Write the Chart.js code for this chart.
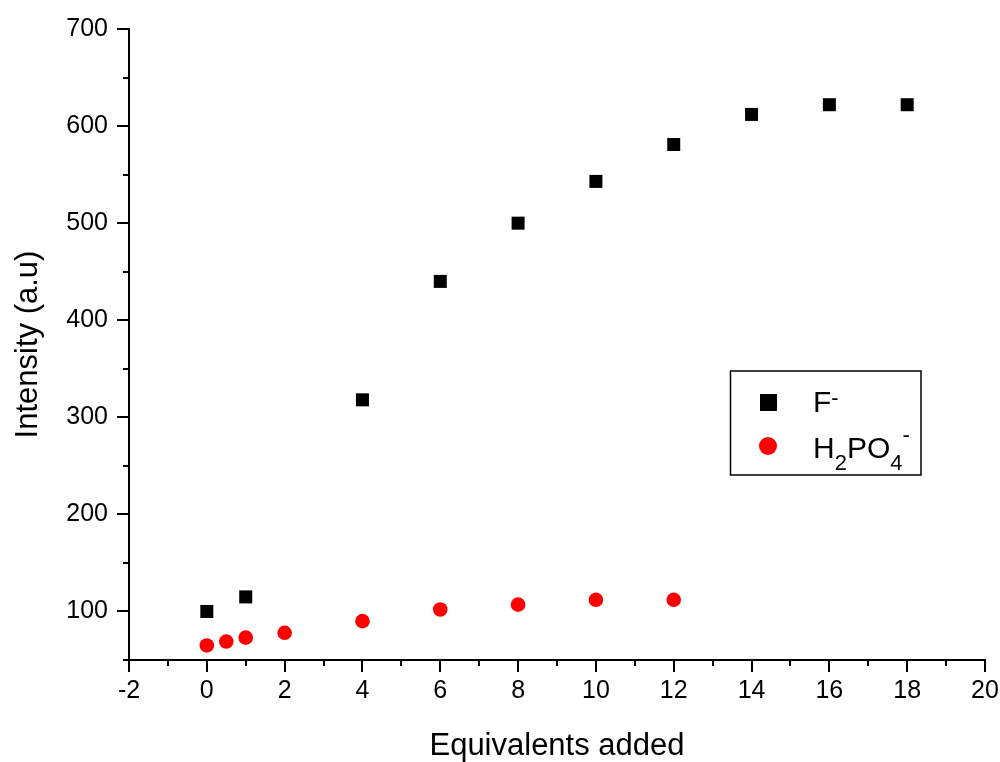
<!DOCTYPE html>
<html>
<head>
<meta charset="utf-8">
<script src="https://cdn.jsdelivr.net/npm/chart.js@4"></script>
<style>
html, body { margin: 0; padding: 0; background: #fff; }
</style>
</head>
<body>
<canvas id="chart" width="1000" height="762"></canvas>
<script>
// F- series
const fluorideX = [0, 1, 4, 6, 8, 10, 12, 14, 16, 18];
const fluorideY = [100, 115, 318, 440, 500, 543, 581, 612, 622, 622];
// H2PO4- series
const phosphateX = [0, 0.5, 1, 2, 4, 6, 8, 10, 12];
const phosphateY = [65, 69, 73, 78, 90, 102, 107, 112, 112];
// labelled ticks
const xTickLabels = [-2, 0, 2, 4, 6, 8, 10, 12, 14, 16, 18, 20];
const yTickLabels = [100, 200, 300, 400, 500, 600, 700];

const FONT = "'Liberation Sans', Arial, sans-serif";

function toPoints(xs, ys) {
    return xs.map((x, i) => ({ x: x, y: ys[i] }));
}

// major/minor tick marks drawn outside the axes
const tickMarks = {
    id: "tickMarks",
    afterDraw(chart) {
        const ctx = chart.ctx;
        const xs = chart.scales.x;
        const ys = chart.scales.y;
        ctx.save();
        ctx.strokeStyle = "#000";
        ctx.lineWidth = 2;
        ctx.beginPath();
        ys.ticks.forEach(t => {
            const py = Math.round(ys.getPixelForValue(t.value));
            const len = yTickLabels.includes(t.value) ? 12 : 6;
            ctx.moveTo(chart.chartArea.left - len, py);
            ctx.lineTo(chart.chartArea.left, py);
        });
        xs.ticks.forEach(t => {
            const px = Math.round(xs.getPixelForValue(t.value));
            const len = xTickLabels.includes(t.value) ? 12 : 6;
            ctx.moveTo(px, chart.chartArea.bottom);
            ctx.lineTo(px, chart.chartArea.bottom + len);
        });
        ctx.stroke();
        ctx.restore();
    }
};

// legend box with sub/superscripts
const chemLegend = {
    id: "chemLegend",
    afterDraw(chart) {
        const ctx = chart.ctx;
        ctx.save();
        ctx.strokeStyle = "#000";
        ctx.lineWidth = 1.5;
        ctx.strokeRect(730.5, 371, 190.5, 104);

        ctx.fillStyle = "#000";
        ctx.fillRect(760, 394, 17, 17);
        ctx.fillStyle = "#ff0000";
        ctx.beginPath();
        ctx.arc(768, 446, 9, 0, Math.PI * 2);
        ctx.fill();

        const big = "30px " + FONT;
        const small = "22px " + FONT;
        ctx.fillStyle = "#000";
        ctx.textBaseline = "alphabetic";
        ctx.textAlign = "left";

        // F-
        let x = 813;
        ctx.font = big;
        ctx.fillText("F", x, 412);
        x += ctx.measureText("F").width;
        ctx.font = small;
        ctx.fillText("-", x, 405);

        // H2PO4-
        x = 813;
        const base = 458;
        const parts = [
            ["H", big, 0], ["2", small, 12], ["PO", big, 0], ["4", small, 12], ["-", small, -16]
        ];
        parts.forEach(([txt, font, dy]) => {
            ctx.font = font;
            ctx.fillText(txt, x, base + dy);
            x += ctx.measureText(txt).width;
        });
        ctx.restore();
    }
};

const data = {
    datasets: [
        {
            label: "F-",
            data: toPoints(fluorideX, fluorideY),
            pointStyle: "rect",
            pointRadius: 9.2,
            pointHoverRadius: 9.2,
            backgroundColor: "#000",
            borderWidth: 0,
        },
        {
            label: "H2PO4-",
            data: toPoints(phosphateX, phosphateY),
            pointStyle: "circle",
            pointRadius: 7.3,
            pointHoverRadius: 7.3,
            backgroundColor: "#ff0000",
            borderWidth: 0,
        },
    ],
};

const config = {
    type: "scatter",
    data: data,
    options: {
        responsive: false,
        animation: false,
        devicePixelRatio: 1,
        layout: { padding: { left: 0, right: 15, top: 29, bottom: 0 } },
        plugins: {
            legend: { display: false },
            tooltip: { enabled: false },
        },
        scales: {
            x: {
                type: "linear",
                min: -2,
                max: 20,
                grid: { display: false, drawTicks: true, tickLength: 12 },
                border: { display: true, color: "#000", width: 2 },
                ticks: {
                    stepSize: 1,
                    autoSkip: false,
                    maxRotation: 0,
                    padding: 4,
                    color: "#000",
                    font: { family: FONT, size: 25 },
                    callback: v => (xTickLabels.includes(v) ? String(v) : ""),
                },
                title: {
                    display: true,
                    text: "Equivalents added",
                    color: "#000",
                    font: { family: FONT, size: 31, lineHeight: 1 },
                    padding: { top: 0, bottom: 0 },
                },
                afterFit(scale) {
                    scale.height = 102;
                    scale.paddingLeft = 0;
                    scale.paddingRight = 0;
                },
            },
            y: {
                type: "linear",
                min: 50,
                max: 700,
                grid: { display: false, drawTicks: true, tickLength: 12 },
                border: { display: true, color: "#000", width: 2 },
                ticks: {
                    stepSize: 50,
                    autoSkip: false,
                    padding: 9,
                    color: "#000",
                    font: { family: FONT, size: 25 },
                    callback: v => (yTickLabels.includes(v) ? String(v) : ""),
                },
                title: {
                    display: true,
                    text: "Intensity (a.u)",
                    color: "#000",
                    font: { family: FONT, size: 31, lineHeight: 1.2 },
                    padding: { top: 10, bottom: 0 },
                },
                afterFit(scale) {
                    scale.width = 129;
                    scale.paddingTop = 0;
                    scale.paddingBottom = 0;
                },
            },
        },
    },
    plugins: [tickMarks, chemLegend],
};

new Chart(document.getElementById("chart"), config);
</script>
</body>
</html>
